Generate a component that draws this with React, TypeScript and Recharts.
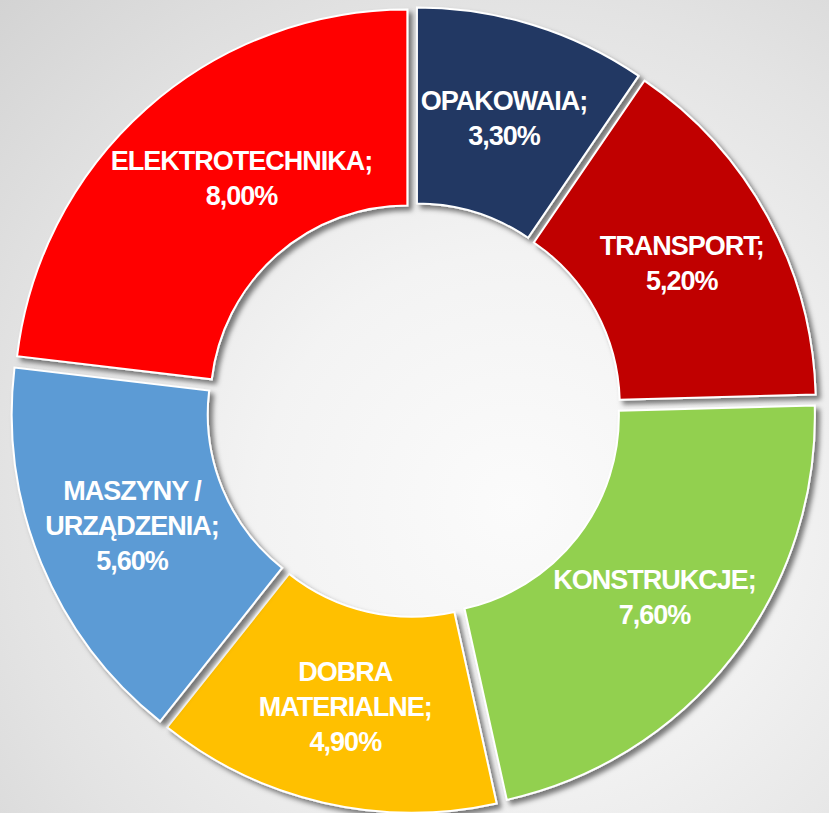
import { PieChart, Pie, Cell } from 'recharts';

const names = ['OPAKOWAIA', 'TRANSPORT', 'KONSTRUKCJE', 'DOBRA MATERIALNE', 'MASZYNY / URZĄDZENIA', 'ELEKTROTECHNIKA'];
const labelLines = [
  ['OPAKOWAIA;'],
  ['TRANSPORT;'],
  ['KONSTRUKCJE;'],
  ['DOBRA', 'MATERIALNE;'],
  ['MASZYNY /', 'URZĄDZENIA;'],
  ['ELEKTROTECHNIKA;'],
];
const shares = [3.3, 5.2, 7.6, 4.9, 5.6, 8.0];
const colors = ['#203864', '#C00000', '#92D050', '#FFC000', '#5B9BD5', '#FF0000'];

const data = names.map((name, i) => ({ name, value: shares[i] }));

const W = 829;
const H = 813;
const CX = 414;
const CY = 410;
const INNER = 197;
const OUTER = 393;
const EXPLODE = 10;
const LABEL_R = 295;
const LINE_H = 35;
// the long ELEKTROTECHNIKA label sits a bit further in, like in the original
const labelNudge: Record<number, [number, number]> = { 5: [30, -3] };

const total = shares.reduce((a, b) => a + b, 0);
// mid angle of each slice, degrees clockwise from 12 o'clock
const mids = shares.map((v, i) => {
  const before = shares.slice(0, i).reduce((a, b) => a + b, 0);
  return ((before + v / 2) / total) * 360;
});

const fmt = (v: number) => v.toFixed(2).replace('.', ',') + '%';

const makeLabel = (focus: number) => (props: any) => {
  if (props.index !== focus) return null;
  const rad = (mids[focus] * Math.PI) / 180;
  const [nx, ny] = labelNudge[focus] || [0, 0];
  const x = props.cx + LABEL_R * Math.sin(rad) + nx;
  const y = props.cy - LABEL_R * Math.cos(rad) + ny;
  const lines = [...labelLines[focus], fmt(shares[focus])];
  const y0 = y - ((lines.length - 1) * LINE_H) / 2;
  return (
    <text
      x={x}
      y={y0}
      fill="#fff"
      textAnchor="middle"
      dominantBaseline="central"
      style={{ fontFamily: '"Liberation Sans", Arial, sans-serif', fontWeight: 700, fontSize: 27, letterSpacing: -1 }}
    >
      {lines.map((l, k) => (
        <tspan key={k} x={x} dy={k === 0 ? 0 : LINE_H}>
          {l}
        </tspan>
      ))}
    </text>
  );
};

export default function App() {
  return (
    <div
      style={{
        position: 'absolute',
        left: 0,
        top: 0,
        width: W,
        height: H,
        overflow: 'hidden',
        background: 'radial-gradient(ellipse at 62% 62%, #fbfbfb 0%, #f3f3f3 35%, #e3e3e3 70%, #d3d3d3 100%)',
      }}
    >
      <svg width={0} height={0} style={{ position: 'absolute' }}>
        <defs>
          <filter id="ds" x="-20%" y="-20%" width="140%" height="140%">
            <feDropShadow dx={4} dy={4} stdDeviation={2.5} floodColor="#000" floodOpacity={0.5} />
          </filter>
        </defs>
      </svg>
      <PieChart width={W} height={H} margin={{ top: 0, right: 0, bottom: 0, left: 0 }}>
        {mids.map((m, i) => {
          const rad = (m * Math.PI) / 180;
          return (
            <Pie
              key={i}
              data={data}
              dataKey="value"
              nameKey="name"
              cx={CX + EXPLODE * Math.sin(rad)}
              cy={CY - EXPLODE * Math.cos(rad)}
              innerRadius={INNER}
              outerRadius={OUTER}
              startAngle={90}
              endAngle={-270}
              isAnimationActive={false}
              labelLine={false}
              label={makeLabel(i)}
            >
              {data.map((d, j) =>
                j === i ? (
                  <Cell key={j} fill={colors[j]} stroke="#fff" strokeWidth={2} filter="url(#ds)" />
                ) : (
                  <Cell key={j} fill="none" stroke="none" />
                )
              )}
            </Pie>
          );
        })}
      </PieChart>
    </div>
  );
}
